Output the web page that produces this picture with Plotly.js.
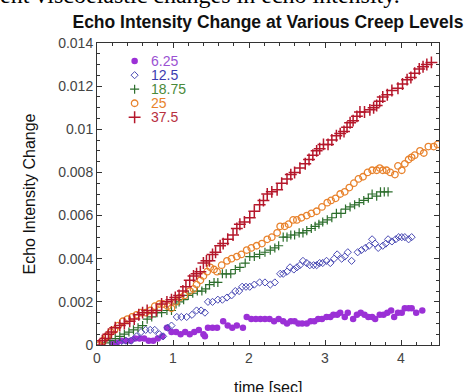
<!DOCTYPE html>
<html>
<head>
<meta charset="utf-8">
<script src="https://cdn.plot.ly/plotly-3.0.1.min.js"></script>
<style>html,body{margin:0;padding:0;background:#fff;}#chart{width:466px;height:392px;}</style>
</head>
<body>
<div id="chart"></div>
<script>
// ---- data ----
const seriesNames = ["6.25", "12.5", "18.75", "25", "37.5"];

const t625 = [0.20,0.26,0.32,0.38,0.44,0.50,0.56,0.62,0.68,0.74,0.80,0.86,0.92,0.98,1.04,1.10,1.16,1.22,1.28,1.34,1.40,1.42,1.46,1.52,1.58,1.66,1.72,1.78,1.84,1.92,1.97,2.03,2.09,2.15,2.21,2.27,2.33,2.39,2.45,2.50,2.55,2.60,2.65,2.70,2.76,2.81,2.86,2.91,2.96,3.02,3.07,3.11,3.16,3.20,3.26,3.30,3.37,3.42,3.47,3.52,3.57,3.62,3.66,3.72,3.77,3.82,3.87,3.91,3.96,4.01,4.05,4.10,4.14,4.20,4.28];
const v625 = [0.0001,0.0001,0.0002,0.0002,0.0002,0.0003,0.0003,0.0003,0.0002,0.0002,0.0003,0.0004,0.0008,0.0006,0.0006,0.0005,0.0006,0.0005,0.0006,0.0007,0.0005,0.0004,0.0008,0.0008,0.0008,0.0011,0.0009,0.0008,0.0009,0.0008,0.0013,0.0012,0.0012,0.0012,0.0012,0.0012,0.0011,0.0012,0.0011,0.0010,0.0011,0.0011,0.0010,0.0010,0.0010,0.0011,0.0011,0.0012,0.0012,0.0013,0.0013,0.0014,0.0014,0.0015,0.0013,0.0015,0.0012,0.0014,0.0015,0.0014,0.0013,0.0013,0.0012,0.0014,0.0014,0.0015,0.0016,0.0013,0.0015,0.0015,0.0017,0.0017,0.0017,0.0015,0.0016];

const t125 = [0.30,0.38,0.45,0.52,0.58,0.64,0.70,0.76,0.82,0.87,0.93,0.98,1.05,1.11,1.18,1.25,1.31,1.37,1.42,1.46,1.52,1.59,1.65,1.71,1.77,1.82,1.87,1.91,1.96,2.01,2.07,2.14,2.21,2.28,2.34,2.41,2.45,2.50,2.54,2.59,2.63,2.67,2.71,2.76,2.80,2.85,2.89,2.93,2.97,3.02,3.07,3.12,3.16,3.22,3.26,3.30,3.35,3.43,3.48,3.53,3.58,3.62,3.66,3.70,3.76,3.80,3.83,3.88,3.93,3.97,4.01,4.05,4.10,4.14];
const v125 = [0.0001,0.0002,0.0002,0.0004,0.0006,0.0007,0.0007,0.0007,0.0005,0.0004,0.0008,0.0009,0.0013,0.0013,0.0013,0.0014,0.0016,0.0016,0.0015,0.0020,0.0020,0.0021,0.0021,0.0022,0.0023,0.0025,0.0025,0.0027,0.0027,0.0027,0.0028,0.0029,0.0029,0.0028,0.0029,0.0033,0.0033,0.0034,0.0036,0.0035,0.0036,0.0037,0.0039,0.0038,0.0037,0.0037,0.0037,0.0038,0.0038,0.0039,0.0038,0.0040,0.0042,0.0040,0.0041,0.0043,0.0039,0.0043,0.0044,0.0045,0.0046,0.0049,0.0047,0.0045,0.0046,0.0047,0.0049,0.0048,0.0049,0.0050,0.0050,0.0050,0.0049,0.0050];

const t1875 = [0.10,0.17,0.24,0.30,0.36,0.42,0.48,0.54,0.60,0.66,0.72,0.79,0.85,0.92,0.98,1.04,1.08,1.14,1.20,1.26,1.32,1.38,1.43,1.48,1.54,1.59,1.65,1.70,1.76,1.82,1.88,1.95,2.01,2.07,2.14,2.21,2.28,2.34,2.39,2.45,2.50,2.55,2.60,2.66,2.71,2.76,2.82,2.87,2.92,2.97,3.03,3.09,3.15,3.21,3.27,3.33,3.39,3.45,3.51,3.57,3.62,3.68,3.73,3.78,3.83];
const v1875 = [0.0001,0.0002,0.0003,0.0004,0.0005,0.0006,0.0007,0.0008,0.0009,0.0012,0.0013,0.0015,0.0015,0.0016,0.0016,0.0019,0.0020,0.0021,0.0023,0.0024,0.0025,0.0025,0.0026,0.0028,0.0029,0.0029,0.0033,0.0033,0.0033,0.0035,0.0036,0.0038,0.0041,0.0041,0.0042,0.0043,0.0044,0.0045,0.0046,0.0050,0.0050,0.0051,0.0051,0.0052,0.0052,0.0053,0.0054,0.0055,0.0056,0.0057,0.0058,0.0059,0.0061,0.0061,0.0063,0.0064,0.0065,0.0066,0.0067,0.0068,0.0070,0.0069,0.0071,0.0071,0.0071];

const t25 = [0.03,0.08,0.13,0.18,0.23,0.28,0.34,0.40,0.46,0.52,0.58,0.64,0.70,0.76,0.82,0.87,0.93,0.98,1.04,1.09,1.15,1.22,1.27,1.31,1.36,1.40,1.45,1.49,1.54,1.58,1.64,1.71,1.77,1.84,1.90,1.97,2.03,2.10,2.17,2.24,2.30,2.37,2.41,2.47,2.52,2.58,2.63,2.69,2.76,2.82,2.89,2.96,3.03,3.08,3.14,3.20,3.26,3.32,3.38,3.44,3.50,3.56,3.62,3.68,3.72,3.76,3.81,3.86,3.92,3.96,4.01,4.05,4.10,4.14,4.18,4.25,4.30,4.36,4.43,4.48];
const v25 = [0.0000,0.0002,0.0004,0.0006,0.0007,0.0009,0.0011,0.0012,0.0013,0.0014,0.0015,0.0015,0.0016,0.0018,0.0019,0.0019,0.0018,0.0017,0.0020,0.0022,0.0023,0.0025,0.0026,0.0028,0.0030,0.0032,0.0034,0.0036,0.0035,0.0034,0.0037,0.0039,0.0040,0.0041,0.0042,0.0044,0.0045,0.0046,0.0047,0.0049,0.0050,0.0052,0.0055,0.0055,0.0056,0.0058,0.0058,0.0059,0.0060,0.0061,0.0062,0.0064,0.0066,0.0067,0.0068,0.0070,0.0071,0.0073,0.0075,0.0077,0.0078,0.0080,0.0081,0.0081,0.0082,0.0081,0.0081,0.0080,0.0079,0.0083,0.0081,0.0084,0.0086,0.0087,0.0088,0.0090,0.0089,0.0092,0.0092,0.0093];

const t375 = [0.03,0.07,0.11,0.15,0.19,0.24,0.30,0.36,0.43,0.49,0.55,0.60,0.66,0.72,0.78,0.85,0.92,0.98,1.03,1.08,1.13,1.17,1.22,1.27,1.31,1.36,1.40,1.44,1.48,1.52,1.56,1.62,1.66,1.72,1.79,1.84,1.88,1.94,2.01,2.07,2.14,2.19,2.24,2.30,2.37,2.43,2.50,2.55,2.60,2.67,2.74,2.79,2.84,2.89,2.93,2.98,3.04,3.09,3.15,3.20,3.25,3.29,3.33,3.37,3.42,3.46,3.52,3.59,3.64,3.68,3.72,3.76,3.82,3.88,3.96,4.02,4.08,4.13,4.18,4.24,4.29,4.34,4.40];
const v375 = [0.0000,0.0002,0.0003,0.0005,0.0006,0.0008,0.0009,0.0010,0.0011,0.0012,0.0014,0.0015,0.0016,0.0015,0.0016,0.0019,0.0020,0.0021,0.0022,0.0023,0.0025,0.0027,0.0030,0.0032,0.0033,0.0034,0.0038,0.0039,0.0039,0.0042,0.0043,0.0046,0.0047,0.0049,0.0051,0.0054,0.0056,0.0057,0.0059,0.0062,0.0065,0.0067,0.0070,0.0071,0.0072,0.0075,0.0077,0.0079,0.0080,0.0082,0.0084,0.0086,0.0088,0.0090,0.0091,0.0093,0.0093,0.0095,0.0097,0.0098,0.0099,0.0101,0.0103,0.0104,0.0106,0.0108,0.0108,0.0109,0.0110,0.0111,0.0113,0.0115,0.0116,0.0118,0.0119,0.0121,0.0123,0.0124,0.0126,0.0128,0.0129,0.0130,0.0131];

const xTickVals = [0, 1, 2, 3, 4];
const yTickVals = [0, 0.002, 0.004, 0.006, 0.008, 0.010, 0.012, 0.014];
const yTickText = ["0", "0.002", "0.004", "0.006", "0.008", "0.01", "0.012", "0.014"];

// ---- styling ----
const colors = ["#9b30d6", "#4a4ab4", "#2c6e2c", "#e8822c", "#b5172b"];
const textColors = ["#9a52d2", "#3c3cb0", "#4a8a3a", "#e8822c", "#b83040"];
const markers = [
  {symbol: "circle", size: 6.5, line: {width: 0}},
  {symbol: "diamond-open", size: 5.5, line: {width: 1}},
  {symbol: "cross-thin-open", size: 6.5, line: {width: 1.2}},
  {symbol: "circle-open", size: 6.5, line: {width: 1.3}},
  {symbol: "cross-thin-open", size: 8.5, line: {width: 1.5}}
];
const xs = [t625, t125, t1875, t25, t375];
const ys = [v625, v125, v1875, v25, v375];

const traces = [];
for (let i = 0; i < 5; i++) {
  const m = Object.assign({}, markers[i]);
  m.color = colors[i];
  m.line = Object.assign({color: colors[i]}, markers[i].line);
  traces.push({x: xs[i], y: ys[i], type: "scatter", mode: "markers", name: seriesNames[i],
    marker: m, showlegend: false, hoverinfo: "skip"});
}
// custom legend (tight spacing) on an invisible overlay axis in paper-like units
const legX = 0.11, legTextX = 0.155, legTop = 0.94, legStep = 0.0465;
const annotations = [];
for (let i = 0; i < 5; i++) {
  const m = Object.assign({}, markers[i]);
  m.color = colors[i];
  m.line = Object.assign({color: colors[i]}, markers[i].line);
  traces.push({x: [legX], y: [legTop - legStep * i], xaxis: "x2", yaxis: "y2", type: "scatter",
    mode: "markers", marker: m, showlegend: false, hoverinfo: "skip"});
  annotations.push({xref: "paper", yref: "paper", x: legTextX, y: legTop - legStep * i,
    xanchor: "left", yanchor: "middle", showarrow: false, text: seriesNames[i], borderpad: 0,
    font: {family: "Liberation Sans, Arial, sans-serif", size: 14, color: textColors[i]}});
}
// cut-off line of document text above the chart
annotations.push({xref: "paper", yref: "paper", x: -0.29, y: 1.108, xanchor: "left", yanchor: "bottom",
  showarrow: false, text: "ent viscoelastic changes in echo intensity.",
  font: {family: "Liberation Serif, Times New Roman, serif", size: 24, color: "#000"}});
// x-axis title (placed as annotation so it can sit partly below the page edge like the reference)
annotations.push({xref: "paper", yref: "paper", x: 0.5, y: -0.142, xanchor: "center", yanchor: "middle",
  showarrow: false, text: "time [sec]",
  font: {family: "Liberation Sans, Arial, sans-serif", size: 16, color: "#111"}});

const axisCommon = {
  showgrid: false, zeroline: false, showline: true, linecolor: "#333", linewidth: 1,
  mirror: "ticks", ticks: "inside", tickcolor: "#333", ticklen: 5, tickwidth: 1,
  tickfont: {family: "Liberation Sans, Arial, sans-serif", size: 14, color: "#444"}
};

const layout = {
  width: 466, height: 392,
  margin: {l: 97, r: 27, t: 43, b: 47},
  paper_bgcolor: "#fff", plot_bgcolor: "#fff",
  title: {text: "<b>Echo Intensity Change at Various Creep Levels</b>", x: 0.575, xanchor: "center",
    y: 0.944, yanchor: "middle", yref: "container",
    font: {family: "Liberation Sans, Arial, sans-serif", size: 17.5, color: "#111"}},
  xaxis: Object.assign({}, axisCommon, {range: [0, 4.5], tickvals: xTickVals, ticktext: xTickVals.map(String),
    minor: {dtick: 0.2, tick0: 0, ticks: "inside", ticklen: 3, tickcolor: "#333"}}),
  yaxis: Object.assign({}, axisCommon, {range: [0, 0.014], tickvals: yTickVals, ticktext: yTickText,
    minor: {dtick: 0.0005, tick0: 0, ticks: "inside", ticklen: 3, tickcolor: "#333"},
    title: {text: "Echo Intensity Change", standoff: 18, font: {family: "Liberation Sans, Arial, sans-serif", size: 16, color: "#111"}}}),
  xaxis2: {overlaying: "x", range: [0, 1], visible: false, fixedrange: true},
  yaxis2: {overlaying: "y", range: [0, 1], visible: false, fixedrange: true},
  annotations: annotations,
  showlegend: false
};

Plotly.newPlot("chart", traces, layout, {staticPlot: true, displayModeBar: false});
</script>
</body>
</html>
